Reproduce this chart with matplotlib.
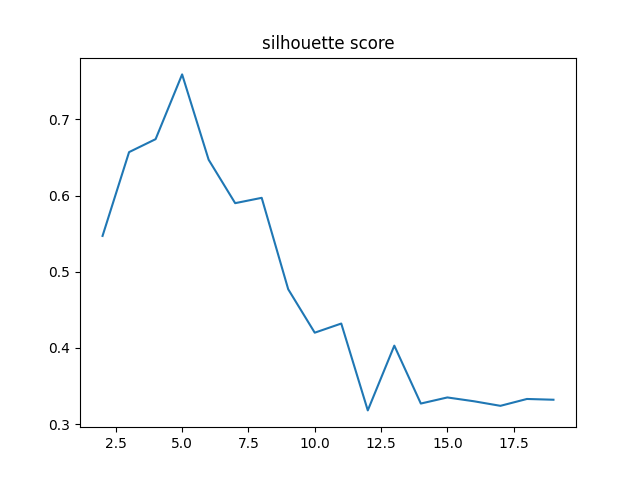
import matplotlib.pyplot as plt

# number of clusters
n_clusters = list(range(2, 20))
# silhouette score
scores = [0.547, 0.657, 0.674, 0.759, 0.647, 0.590, 0.597, 0.477, 0.420,
          0.432, 0.318, 0.403, 0.327, 0.335, 0.330, 0.324, 0.333, 0.332]

fig = plt.figure(figsize=(6.4, 4.8), dpi=100)
ax = fig.add_subplot(111)
ax.plot(n_clusters, scores)
ax.set_title("silhouette score")

plt.savefig("out.png")
plt.close()
